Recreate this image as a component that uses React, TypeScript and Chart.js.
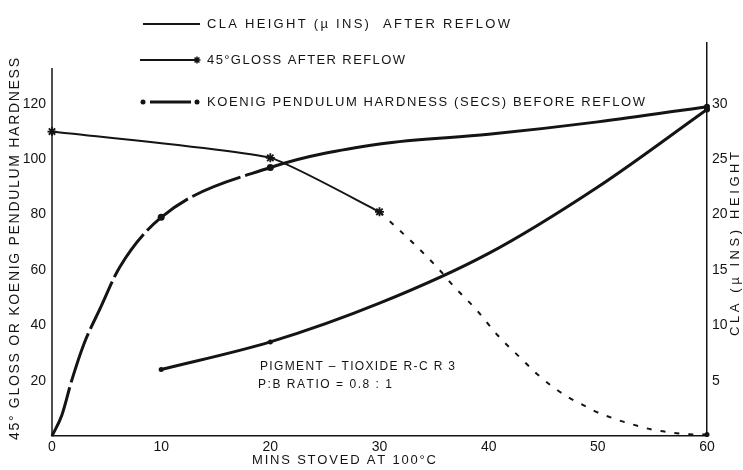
import React, { useEffect, useRef } from "react";
import { Chart, registerables } from "chart.js";

Chart.register(...registerables);

const INK = "#141414";
const FONT = "'Liberation Sans', 'DejaVu Sans', sans-serif";

// Koenig pendulum hardness before reflow (secs), left axis
const hardnessMins = [0, 0.9, 1.8, 2.9, 4.4, 6.2, 10, 20, 30, 40, 50, 60];
const hardnessSecs = [0, 7.5, 20, 33, 46, 61, 79, 97, 105.5, 109, 113.5, 119];

// 45° gloss after reflow, measured part
const glossMins = [0, 20, 30];
const glossValues = [110, 100.5, 81];

// 45° gloss after reflow, dashed continuation
const glossTrendMins = [30, 33.4, 35.5, 36.7, 38.9, 40.8, 43.1, 44.4, 45.9, 47.3, 48.5, 49.7, 51.4, 52.9, 55, 56.8, 58.4, 60];
const glossTrendValues = [81, 68.5, 60, 54.5, 45.5, 36.5, 27.5, 22.5, 17.7, 14, 11.5, 9, 6.4, 4.5, 2.3, 1.2, 0.6, 0.5];

// CLA height after reflow (µ ins), right axis
const claMins = [10, 20, 30, 40, 50, 60];
const claHeight = [6, 8.5, 12, 16.5, 22.5, 29.5];

const xTicks = [0, 10, 20, 30, 40, 50, 60];
const leftTicks = [20, 40, 60, 80, 100, 120];
const rightTicks = [5, 10, 15, 20, 25, 30];

const legendLabels = [
  "CLA HEIGHT (µ INS)  AFTER REFLOW",
  "45°GLOSS AFTER REFLOW",
  "KOENIG PENDULUM HARDNESS (SECS) BEFORE REFLOW",
];
const leftTitle = "45° GLOSS OR KOENIG PENDULUM HARDNESS";
const rightTitle = "CLA (µ INS) HEIGHT";
const xTitle = "MINS STOVED AT 100°C";
const noteLines = ["PIGMENT – TIOXIDE R-C R 3", "P:B RATIO = 0.8 : 1"];

const pts = (xs: number[], ys: number[]) => xs.map((x, i) => ({ x, y: ys[i] }));

// Lays a string out letter by letter so it spans the given width.
function spreadText(ctx: CanvasRenderingContext2D, text: string, x: number, y: number, width: number) {
  const chars = Array.from(text);
  const widths = chars.map((c) => ctx.measureText(c).width);
  const total = widths.reduce((a, b) => a + b, 0);
  const gap = chars.length > 1 ? (width - total) / (chars.length - 1) : 0;
  let cx = x;
  chars.forEach((c, i) => {
    ctx.fillText(c, cx, y);
    cx += widths[i] + gap;
  });
}

function drawStar(ctx: CanvasRenderingContext2D, x: number, y: number, r: number) {
  ctx.beginPath();
  ctx.moveTo(x - r, y);
  ctx.lineTo(x + r, y);
  ctx.moveTo(x, y - r);
  ctx.lineTo(x, y + r);
  const d = r * 0.7;
  ctx.moveTo(x - d, y - d);
  ctx.lineTo(x + d, y + d);
  ctx.moveTo(x - d, y + d);
  ctx.lineTo(x + d, y - d);
  ctx.stroke();
}

function dot(ctx: CanvasRenderingContext2D, x: number, y: number, r: number) {
  ctx.beginPath();
  ctx.arc(x, y, r, 0, Math.PI * 2);
  ctx.fill();
}

const paperText = {
  id: "paperText",
  afterDraw(chart: any) {
    const { ctx, chartArea, scales } = chart;
    const y = scales.y;
    ctx.save();
    ctx.strokeStyle = INK;
    ctx.fillStyle = INK;
    ctx.lineCap = "butt";

    // left axis line, shorter than the right one
    ctx.lineWidth = 1.5;
    ctx.beginPath();
    ctx.moveTo(chartArea.left, y.getPixelForValue(0));
    ctx.lineTo(chartArea.left, y.getPixelForValue(133));
    ctx.stroke();

    // legend
    ctx.lineWidth = 2;
    ctx.beginPath();
    ctx.moveTo(143, 24);
    ctx.lineTo(200, 24);
    ctx.stroke();

    ctx.beginPath();
    ctx.moveTo(140, 60);
    ctx.lineTo(196, 60);
    ctx.stroke();
    ctx.lineWidth = 1.5;
    drawStar(ctx, 197, 60, 3.5);

    ctx.lineWidth = 3;
    ctx.beginPath();
    ctx.moveTo(150, 102);
    ctx.lineTo(191, 102);
    ctx.stroke();
    dot(ctx, 143, 102, 2.5);
    dot(ctx, 197, 102, 2.5);

    ctx.textBaseline = "middle";
    ctx.textAlign = "left";
    ctx.font = `13px ${FONT}`;
    spreadText(ctx, legendLabels[0], 207, 24, 303);
    spreadText(ctx, legendLabels[1], 207, 60, 198);
    spreadText(ctx, legendLabels[2], 207, 102, 438);

    // axis titles
    ctx.font = `14px ${FONT}`;
    ctx.save();
    ctx.translate(15, 440);
    ctx.rotate(-Math.PI / 2);
    spreadText(ctx, leftTitle, 0, 0, 382);
    ctx.restore();

    ctx.font = `13px ${FONT}`;
    ctx.save();
    ctx.translate(735, 336);
    ctx.rotate(-Math.PI / 2);
    spreadText(ctx, rightTitle, 0, 0, 184);
    ctx.restore();

    spreadText(ctx, xTitle, 252, 460, 184);

    // pigment note
    ctx.font = `12px ${FONT}`;
    spreadText(ctx, noteLines[0], 260, 367, 195);
    spreadText(ctx, noteLines[1], 258, 385, 134);

    ctx.restore();
  },
};

export default function App() {
  const ref = useRef<HTMLCanvasElement | null>(null);

  useEffect(() => {
    if (!ref.current) return;
    const tickFont = { family: FONT, size: 14 };
    const chart = new Chart(ref.current, {
      type: "line",
      data: {
        datasets: [
          {
            label: legendLabels[2],
            data: pts(hardnessMins, hardnessSecs),
            yAxisID: "y",
            borderColor: INK,
            backgroundColor: INK,
            borderWidth: 3,
            borderDash: [],
            cubicInterpolationMode: "monotone",
            pointRadius: hardnessMins.map((m) => (m === 10 || m === 20 ? 3.5 : m === 60 ? 3 : 0)),
            pointBackgroundColor: INK,
            pointBorderWidth: 0,
            segment: {
              borderDash: (c: any) => (c.p1.parsed.x <= 20 ? [52, 5] : undefined),
            },
            clip: false,
          } as any,
          {
            label: legendLabels[1],
            data: pts(glossMins, glossValues),
            yAxisID: "y",
            borderColor: INK,
            backgroundColor: INK,
            borderWidth: 2,
            tension: 0.15,
            pointStyle: "star",
            pointRadius: 4.5,
            pointBorderWidth: 1.8,
            pointBorderColor: INK,
            clip: false,
          } as any,
          {
            label: "gloss trend",
            data: pts(glossTrendMins, glossTrendValues),
            yAxisID: "y",
            borderColor: INK,
            backgroundColor: INK,
            borderWidth: 2,
            borderDash: [5, 9],
            cubicInterpolationMode: "monotone",
            pointRadius: glossTrendMins.map((m) => (m === 60 ? 2.5 : 0)),
            pointBorderWidth: 0,
            clip: false,
          } as any,
          {
            label: legendLabels[0],
            data: pts(claMins, claHeight),
            yAxisID: "y1",
            borderColor: INK,
            backgroundColor: INK,
            borderWidth: 3,
            cubicInterpolationMode: "monotone",
            pointRadius: claMins.map((m) => (m === 10 || m === 20 ? 2.5 : m === 60 ? 3 : 0)),
            pointBorderWidth: 0,
            clip: false,
          } as any,
        ],
      },
      options: {
        responsive: false,
        animation: false,
        events: [],
        layout: { padding: { top: 43, left: 0, right: 0, bottom: 0 } },
        plugins: {
          legend: { display: false },
          tooltip: { enabled: false },
          title: { display: false },
        },
        scales: {
          x: {
            type: "linear",
            position: "bottom",
            min: 0,
            max: 60,
            afterBuildTicks: (s: any) => {
              s.ticks = xTicks.map((v) => ({ value: v }));
            },
            afterFit: (s: any) => {
              s.height = 34;
            },
            ticks: { color: INK, font: tickFont, padding: 3, maxRotation: 0, autoSkip: false },
            grid: { display: false, drawTicks: false },
            border: { display: true, color: INK, width: 1.5 },
          },
          y: {
            type: "linear",
            position: "left",
            min: 0,
            max: 142,
            afterBuildTicks: (s: any) => {
              s.ticks = leftTicks.map((v) => ({ value: v }));
            },
            afterFit: (s: any) => {
              s.width = 52;
            },
            ticks: { color: INK, font: tickFont, padding: 6, autoSkip: false },
            grid: { display: false, drawTicks: false },
            border: { display: false },
          },
          y1: {
            type: "linear",
            position: "right",
            min: 0,
            max: 35.5,
            afterBuildTicks: (s: any) => {
              s.ticks = rightTicks.map((v) => ({ value: v }));
            },
            afterFit: (s: any) => {
              s.width = 36;
            },
            ticks: { color: INK, font: tickFont, padding: 5, autoSkip: false },
            grid: { display: false, drawTicks: false },
            border: { display: true, color: INK, width: 1.5 },
          },
        },
      } as any,
      plugins: [paperText],
    });
    return () => chart.destroy();
  }, []);

  return (
    <div style={{ position: "fixed", left: 0, top: 0, width: 743, height: 470, background: "#fff" }}>
      <canvas ref={ref} width={743} height={470} style={{ display: "block" }} />
    </div>
  );
}
